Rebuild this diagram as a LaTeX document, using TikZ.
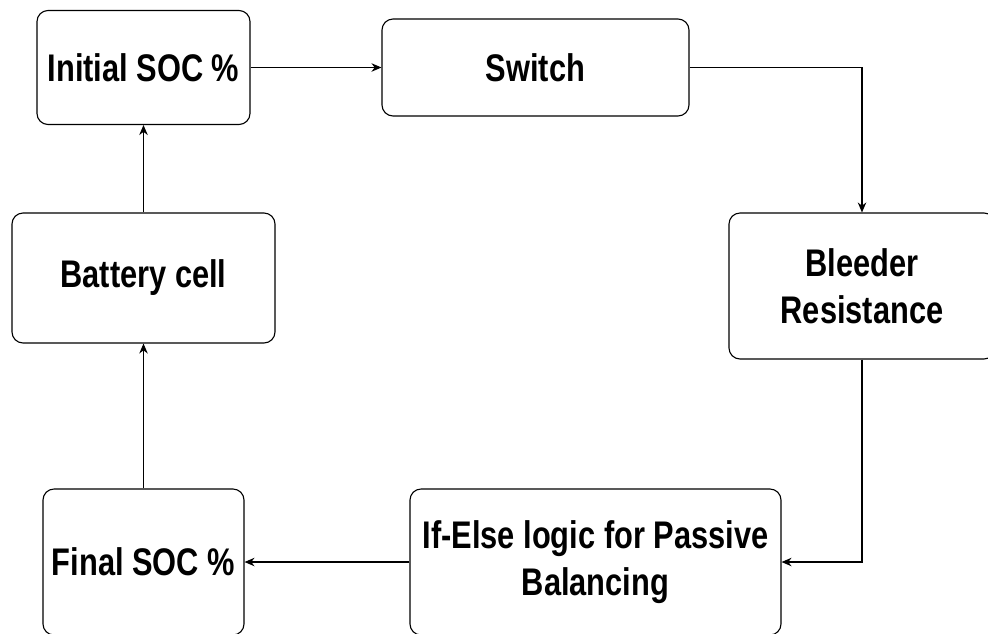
\documentclass[tikz,border=0pt]{standalone}
\usepackage{fontspec}
\usetikzlibrary{arrows.meta}
\newfontfamily\lblfont{Liberation Sans}[FakeStretch=0.8]
\newcommand\stage[5]{\node(#1)[blk,minimum width=#2,minimum height=#3] at (#4) {#5};}
\tikzset{
    blk/.style={draw,rounded corners=11pt,line width=1.1pt,align=center,inner sep=0pt,
        font=\lblfont\bfseries\fontsize{38.5}{47}\selectfont},
    arr/.style={-{Stealth[length=10pt,width=8.5pt]},line width=1.1pt}
}

\begin{document}
\begin{tikzpicture}[x=1pt,y=-1pt]
    \useasboundingbox (0,0) rectangle (988,633);
    \clip (0,0) rectangle (988,633);
    % blocks
    \stage{init}{213pt}{114pt}{143.5,67.5}{Initial SOC \%}
    \stage{switch}{307pt}{97pt}{535.5,67.5}{Switch}
    \stage{bleeder}{266pt}{146pt}{862,286}{Bleeder\\Resistance}
    \stage{ifelse}{371pt}{146pt}{595.5,562}{If-Else logic for Passive\\Balancing}
    \stage{final}{201pt}{146pt}{143.5,562}{Final SOC \%}
    \stage{battery}{263pt}{130pt}{143.5,278}{Battery cell}
    % loop
    \draw[arr] (init.east) -- (switch.west);
    \draw[arr] (switch.east) -| (bleeder.north);
    \draw[arr] (bleeder.south) |- (ifelse.east);
    \draw[arr] (ifelse.west) -- (final.east);
    \draw[arr] (final.north) -- (battery.south);
    \draw[arr] (battery.north) -- (init.south);
\end{tikzpicture}
\end{document}
